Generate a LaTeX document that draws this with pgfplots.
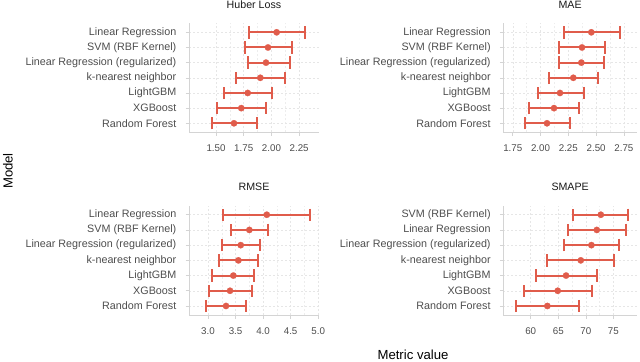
\documentclass[border=0pt]{standalone}
\usepackage{fontspec}
\setmainfont{Liberation Sans}
\usepackage{pgfplots}
\usepackage{pgfplotstable}
\pgfplotsset{compat=1.18}
\usetikzlibrary{arrows.meta}

\definecolor{pt}{HTML}{E05C4B}
\definecolor{txt}{HTML}{4D4D4D}
\definecolor{strip}{HTML}{1A1A1A}
\definecolor{gridc}{HTML}{E6E6E6}
\definecolor{axc}{HTML}{D4D4D4}

% y: 1 = bottom row ... 7 = top row
\pgfplotstableread{
y est lo hi
7 2.047 1.786 2.311
6 1.969 1.755 2.197
5 1.951 1.780 2.173
4 1.900 1.674 2.134
3 1.786 1.560 2.017
2 1.728 1.500 1.957
1 1.662 1.452 1.876
}\huber

\pgfplotstableread{
y est lo hi
7 2.457 2.200 2.721
6 2.373 2.160 2.589
5 2.367 2.157 2.577
4 2.295 2.067 2.529
3 2.175 1.966 2.403
2 2.121 1.890 2.358
1 2.058 1.852 2.272
}\mae

\pgfplotstableread{
y est lo hi
7 4.067 3.260 4.867
6 3.751 3.400 4.115
5 3.594 3.230 3.958
4 3.552 3.182 3.933
3 3.460 3.048 3.860
2 3.400 2.995 3.810
1 3.327 2.945 3.703
}\rmse

\pgfplotstableread{
y est lo hi
7 72.73 67.45 77.93
6 72.00 66.55 77.45
5 71.02 65.93 76.24
4 69.09 62.78 75.39
3 66.42 60.78 72.18
2 64.90 58.65 71.27
1 63.02 57.15 68.90
}\smape

\pgfplotsset{
  every axis title shift=0pt,
  panel/.style={
    scale only axis, anchor=south west,
    ymin=0.4, ymax=7.6, ytick={1,...,7},
    axis lines*=left,
    axis line style={draw=axc, line width=0.6bp},
    tick style={draw=axc, line width=0.6bp},
    major tick length=3.5bp, minor tick length=0pt,
    tick align=outside,
    grid=both,
    minor x tick num=1,
    major grid style={draw=gridc, line width=0.5bp, dash pattern=on 2bp off 2bp},
    minor grid style={draw=gridc!70, line width=0.4bp, dash pattern=on 2bp off 2bp},
    tick label style={text=txt},
    yticklabel style={font=\fontsize{10.8}{12}\selectfont, anchor=east, inner xsep=0pt, xshift=-9bp},
    xticklabel style={font=\fontsize{9.8}{11}\selectfont, anchor=base, yshift=-16bp},
    title style={font=\fontsize{10.7}{12}\selectfont, text=strip, at={(0.5,1)}, anchor=base, yshift=14.8bp},
    clip=false,
  },
  interval/.style={
    quiver={u=\thisrow{hi}-\thisrow{lo}, v=0,
      every arrow/.append style={line width=2bp, pt,
        {Bar[width=12.4bp, line width=2bp]}-{Bar[width=12.4bp, line width=2bp]}}},
    draw=pt, line width=2bp, mark=none,
  },
  dot/.style={only marks, mark=*, mark size=3.2bp, mark options={fill=pt, draw=pt, line width=0.2bp}},
}

\begin{document}
\begin{tikzpicture}[x=1bp, y=1bp]
\path[use as bounding box] (0,0) rectangle (640,361);

\begin{axis}[panel, at={(189bp,228.6bp)}, width=130bp, height=109.2bp,
  xmin=1.2565, xmax=2.429, title={Huber Loss},
  xtick={1.5,1.75,2,2.25}, xticklabels={1.50,1.75,2.00,2.25},
  yticklabels={Random Forest,XGBoost,LightGBM,k-nearest neighbor,Linear Regression (regularized),SVM (RBF Kernel),Linear Regression}]
\addplot[interval] table[x=lo, y=y] {\huber};
\addplot[dot] table[x=est, y=y] {\huber};
\end{axis}

\begin{axis}[panel, at={(503.3bp,228.6bp)}, width=133.7bp, height=109.2bp,
  xmin=1.665, xmax=2.868, title={MAE},
  xtick={1.75,2,2.25,2.5,2.75}, xticklabels={1.75,2.00,2.25,2.50,2.75},
  yticklabels={Random Forest,XGBoost,LightGBM,k-nearest neighbor,Linear Regression (regularized),SVM (RBF Kernel),Linear Regression}]
\addplot[interval] table[x=lo, y=y] {\mae};
\addplot[dot] table[x=est, y=y] {\mae};
\end{axis}

\begin{axis}[panel, at={(189bp,45.9bp)}, width=130bp, height=109.5bp,
  xmin=2.655, xmax=5.015, title={RMSE},
  xtick={3,3.5,4,4.5,5}, xticklabels={3.0,3.5,4.0,4.5,5.0},
  yticklabels={Random Forest,XGBoost,LightGBM,k-nearest neighbor,Linear Regression (regularized),SVM (RBF Kernel),Linear Regression}]
\addplot[interval] table[x=lo, y=y] {\rmse};
\addplot[dot] table[x=est, y=y] {\rmse};
\end{axis}

\begin{axis}[panel, at={(503.3bp,45.9bp)}, width=133.7bp, height=109.5bp,
  xmin=55.02, xmax=79.3, title={SMAPE},
  xtick={60,65,70,75}, xticklabels={60,65,70,75},
  yticklabels={Random Forest,XGBoost,LightGBM,k-nearest neighbor,Linear Regression (regularized),Linear Regression,SVM (RBF Kernel)}]
\addplot[interval] table[x=lo, y=y] {\smape};
\addplot[dot] table[x=est, y=y] {\smape};
\end{axis}

\node[rotate=90, font=\fontsize{13.2}{15}\selectfont, text=black] at (8,190) {Model};
\node[font=\fontsize{13.2}{15}\selectfont, text=black] at (413,6) {Metric value};
\end{tikzpicture}
\end{document}
